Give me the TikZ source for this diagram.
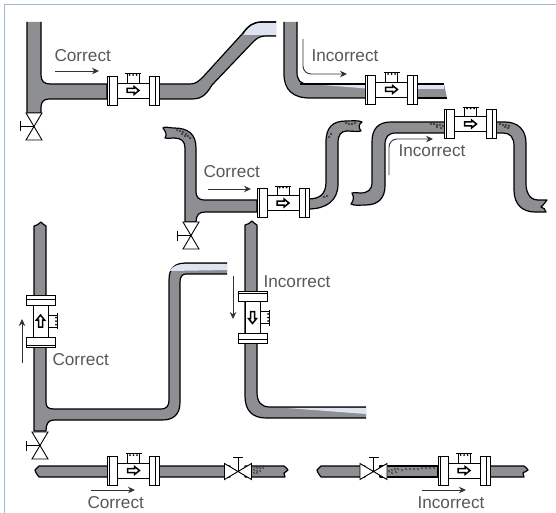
\documentclass[tikz,border=0pt]{standalone}
\usepackage{fontspec}
\usepackage{xcolor}
\setmainfont{Liberation Sans}
\usetikzlibrary{arrows.meta}
\definecolor{pipegray}{HTML}{8E8F93}
\definecolor{pipelight}{HTML}{DDE3F0}
\definecolor{framecol}{HTML}{9CBBDB}
\definecolor{labelcol}{HTML}{585858}

\begin{document}
\begin{tikzpicture}[x=1pt, y=-1pt, line width=1pt]
	\tikzstyle{pipe} =[draw=black, fill=pipegray, line width=1.2pt, line join=round]
	\tikzstyle{pipeless} =[fill=pipelight]
	\tikzstyle{part} =[draw=black, fill=white, line width=0.9pt]
	\tikzstyle{flow} =[draw=black!80, line width=0.9pt, -{Stealth[length=7pt,width=6.5pt]}]
	\tikzstyle{word} =[inner sep=0, anchor=base west, font=\fontsize{17.2}{18}\selectfont, text=labelcol]
	\tikzstyle{bubble} =[draw=black, fill=white, line width=0.35pt]
	\newcommand{\flowmeter}[3]{
		\begin{scope}[shift={(#1,#2)},#3]
			\draw[part] (-16,-7.5) rectangle (16,7.5);
			\draw[part] (-26,-14.5) rectangle (-16,14.5);
			\draw[part] (16,-14.5) rectangle (26,14.5);
			\draw[black, line width=0.7pt] (-24,-14.5) -- (-24,14.5);
			\draw[black, line width=0.7pt] (22,-14.5) -- (22,14.5);
			\draw[black, line width=0.8pt] (-6,-7.5) -- (-6,-17);
			\draw[black, line width=0.8pt] (6,-7.5) -- (6,-17);
			\draw[black, line width=0.9pt] (-8,-17) -- (8,-17);
			\foreach \d in {-3.5,0,3.5}
				{\fill (\d,-15.5) circle (1);}
			\draw[black, fill=white, line width=1.5pt, line join=miter]
				(-6,-2) -- (1,-2) -- (1,-4) -- (6,0) -- (1,4) -- (1,2) -- (-6,2) -- cycle;
		\end{scope}
	}
	\newcommand{\valve}[3]{
		\begin{scope}[shift={(#1,#2)},rotate=#3]
			\draw[part] (-8,-13.5) -- (8,-13.5) -- (0,0) -- cycle;
			\draw[part] (-8,13.5) -- (8,13.5) -- (0,0) -- cycle;
			\draw[black, line width=0.9pt] (0,0) -- (-14,0);
			\draw[black, line width=0.9pt] (-14,-5) -- (-14,5);
		\end{scope}
	}
	\useasboundingbox (0,0) rectangle (556,513);
	\draw[framecol, line width=1.8pt] (4.5,513) -- (4.5,4.5) -- (556,4.5);

	% correct, rising line
	\draw[pipe] (27,22) -- (27,113) -- (41,113) -- (41,107) .. controls (41,102) and (44,99) .. (49,99) -- (107,99) -- (107,84) -- (50,84) .. controls (44,84) and (41,81) .. (41,75) -- (41,22);
	\draw[pipe] (276,36) -- (266,36) .. controls (260,36) and (257,38) .. (253,42) -- (212,85) .. controls (207,93) and (203,99) .. (192,99) -- (159,99) -- (159,84) -- (190,84) .. controls (195,84) and (198,82) .. (203,77) -- (243,33) .. controls (248,26) and (253,22) .. (262,22) -- (276,22);
	\fill[pipeless] (243.5,35) .. controls (248,27) and (253,23) .. (262,23) -- (276,23) -- (276,35) -- cycle;
	\draw[black, line width=1.2pt] (243,33) .. controls (248,26) and (253,22) .. (262,22) -- (276,22);
	\flowmeter{133}{90.5}{}
	\valve{34}{126.5}{0}
	\node[word] (correctA) at (54,62) {Correct};
	\coordinate (correctAa) at (55,71);
	\coordinate (correctAb) at (99,71);
	\draw[flow] (correctAa) -- (correctAb);

	% incorrect, falling line
	\draw[pipe] (297,22) -- (297,72) .. controls (297,80) and (300,84) .. (308,84) -- (366,84) -- (366,98) -- (310,98) .. controls (293,98) and (284,90) .. (284,74) -- (284,22);
	\draw[pipe] (444,84) -- (417,84) -- (417,98) -- (447,98);
	\fill[pipeless] (323,85) -- (366,85) -- (366,88.5) -- cycle;
	\fill[pipeless] (417,85) -- (444,85) -- (444,89) -- (417,89) -- cycle;
	\draw[black, line width=1.8pt] (300,84) -- (308,84) -- (366,84);
	\draw[black, line width=1.8pt] (417,84) -- (444,84);
	\flowmeter{391.5}{89.5}{}
	\node[word] (incorrectA) at (311,62) {Incorrect};
	\coordinate (incorrectAa) at (303,39);
	\coordinate (incorrectAb) at (347,74);
	\draw[flow, rounded corners=8] (incorrectAa) |- (incorrectAb);

	% correct, line with high ends
	\draw[pipe] (163,128) .. controls (165,126) and (168,128) .. (174,128) .. controls (188,128) and (196,134) .. (196,148) -- (196,192) .. controls (196,197) and (199,200) .. (204,200) -- (257,200) -- (257,212) -- (205,212) .. controls (199,212) and (196,215) .. (196,222) -- (185,222) -- (185,148) .. controls (185,141) and (181,138) .. (174,138) .. controls (170,138) and (167,139) .. (165,138) .. controls (167,135) and (166,132) .. (163,128) -- cycle;
	\draw[pipe] (308,199) .. controls (320,199) and (326,194) .. (326,182) -- (326,142) .. controls (326,127) and (333,121) .. (346,121) .. controls (352,121) and (358,120) .. (362,122) .. controls (359,124) and (358,127) .. (361,131) .. controls (356,132) and (352,131) .. (347,131) .. controls (341,131) and (338,135) .. (338,143) -- (338,184) .. controls (338,201) and (326,209) .. (308,209) -- cycle;
	\flowmeter{283}{203}{}
	\valve{191}{235.5}{0}
	\node[word] (correctB) at (203,177) {Correct};
	\coordinate (correctBa) at (208,189);
	\coordinate (correctBb) at (251,189);
	\draw[flow] (correctBa) -- (correctBb);

	% incorrect, line over a hump
	\draw[pipe] (445,122) -- (391,122) .. controls (378,122) and (372,129) .. (372,142) -- (372,182) .. controls (372,190) and (368,193) .. (360,193) .. controls (357,193) and (354,192) .. (352,193) .. controls (354,197) and (354,200) .. (351,204) .. controls (355,206) and (360,205) .. (366,205) .. controls (378,205) and (385,198) .. (385,186) -- (385,145) .. controls (385,137) and (388,133) .. (396,133) -- (445,133);
	\draw[pipe] (496,122) -- (505,122) .. controls (518,122) and (526,130) .. (526,143) -- (526,184) .. controls (526,191) and (529,200) .. (538,200) -- (547,200) .. controls (545,203) and (543,205) .. (541,207) .. controls (543,208) and (546,209) .. (546,212) -- (535,212) .. controls (522,212) and (514,204) .. (514,190) -- (514,146) .. controls (514,137) and (510,133) .. (503,133) -- (496,133) -- cycle;
	\flowmeter{470.5}{124}{}
	\node[word] (incorrectB) at (398,157) {Incorrect};
	\coordinate (incorrectBa) at (389,175);
	\coordinate (incorrectBb) at (433,139);
	\draw[flow, rounded corners=8] (incorrectBa) |- (incorrectBb);

	% correct, rising line on the left
	\draw[pipe] (227,274) -- (186,274) .. controls (182,274) and (180,277) .. (180,282) -- (180,402) .. controls (180,414) and (174,420) .. (162,420) -- (54,420) .. controls (48,420) and (46,424) .. (46,431) -- (34,431) -- (34,226) .. controls (37,226) and (38,224) .. (41,222) .. controls (43,223) and (44,226) .. (46,226) -- (46,402) .. controls (46,407) and (48,409) .. (54,409) -- (160,409) .. controls (167,409) and (169,406) .. (169,400) -- (169,280) .. controls (169,268) and (175,263) .. (186,263) -- (227,263);
	\fill[pipeless] (170,271) .. controls (172,266) and (178,264) .. (186,264) -- (227,264) -- (227,270) -- cycle;
	\flowmeter{40.5}{321}{rotate=90, yscale=-1}
	\valve{40}{445.5}{0}
	\node[word] (correctC) at (52,365) {Correct};
	\coordinate (correctCa) at (22,363);
	\coordinate (correctCb) at (22,319);
	\draw[flow] (correctCa) -- (correctCb);

	% incorrect, falling line on the left
	\draw[pipe] (366,418) -- (266,418) .. controls (252,418) and (245,410) .. (245,396) -- (245,225) .. controls (248,225) and (249,223) .. (252,221) .. controls (254,222) and (255,225) .. (257,225) -- (257,392) .. controls (257,402) and (261,407) .. (270,407) -- (366,407);
	\fill[pipeless] (287,408) -- (366,408) -- (366,414) -- cycle;
	\flowmeter{252.5}{317.5}{rotate=-90}
	\node[word] (incorrectC) at (263,287) {Incorrect};
	\coordinate (incorrectCa) at (233,276);
	\coordinate (incorrectCb) at (233,319);
	\draw[flow] (incorrectCa) -- (incorrectCb);

	% correct, level line with valve
	\draw[pipe] (39,466) -- (230,466) -- (230,477) -- (39,477) .. controls (38,475) and (36,474) .. (35,470) .. controls (36,468) and (38,468) .. (39,466) -- cycle;
	\draw[pipe] (245,466) -- (284,466) .. controls (286,468) and (288,469) .. (288,470) .. controls (287,472) and (284,472) .. (284,473) .. controls (284,475) and (285,476) .. (285,477) -- (245,477) -- cycle;
	\flowmeter{133.5}{470.5}{}
	\valve{238}{471.5}{-90}
	\node[word] (correctD) at (87,508) {Correct};
	\coordinate (correctDa) at (91,490);
	\coordinate (correctDb) at (135,490);
	\draw[flow] (correctDa) -- (correctDb);

	% incorrect, level line with valve
	\draw[pipe] (321,466) -- (365,466) -- (365,477) -- (321,477) .. controls (320,475) and (318,474) .. (317,470) .. controls (318,468) and (320,468) .. (321,466) -- cycle;
	\draw[pipe] (380,466) -- (438,466) -- (438,477) -- (380,477) -- cycle;
	\draw[pipe] (490,466) -- (524,466) .. controls (526,468) and (528,469) .. (528,470) .. controls (527,472) and (523,472) .. (523,473) .. controls (523,475) and (524,476) .. (524,477) -- (490,477) -- cycle;
	\flowmeter{464}{470.5}{}
	\valve{373.5}{471.5}{-90}
	\node[word] (incorrectD) at (417,508) {Incorrect};
	\coordinate (incorrectDa) at (422,490);
	\coordinate (incorrectDb) at (466,490);
	\draw[flow] (incorrectDa) -- (incorrectDb);

	% trapped bubbles
	\foreach \x/\y in {177/130,180/131,183/132,186/134,188/136,190/138,182/134,185/136,
		346/123,349/124,352/124,355/123,331/134,329/137,
		431/124,434/124,437/125,440/125,443/126,437/127,441/128,
		500/124,503/125,506/125,509/126,505/127,508/128,
		324/197,327/196,
		254/467,257/468,260/468,263/468,254/470,257/471,260/471,254/473,257/473,
		389/471,392/470,395/469,398/469,402/470,406/469,410/469,414/469,418/469,422/468,426/468,430/468,434/468,392/473,396/472}
		{\filldraw[bubble] (\x,\y) circle (1);}
\end{tikzpicture}
\end{document}
